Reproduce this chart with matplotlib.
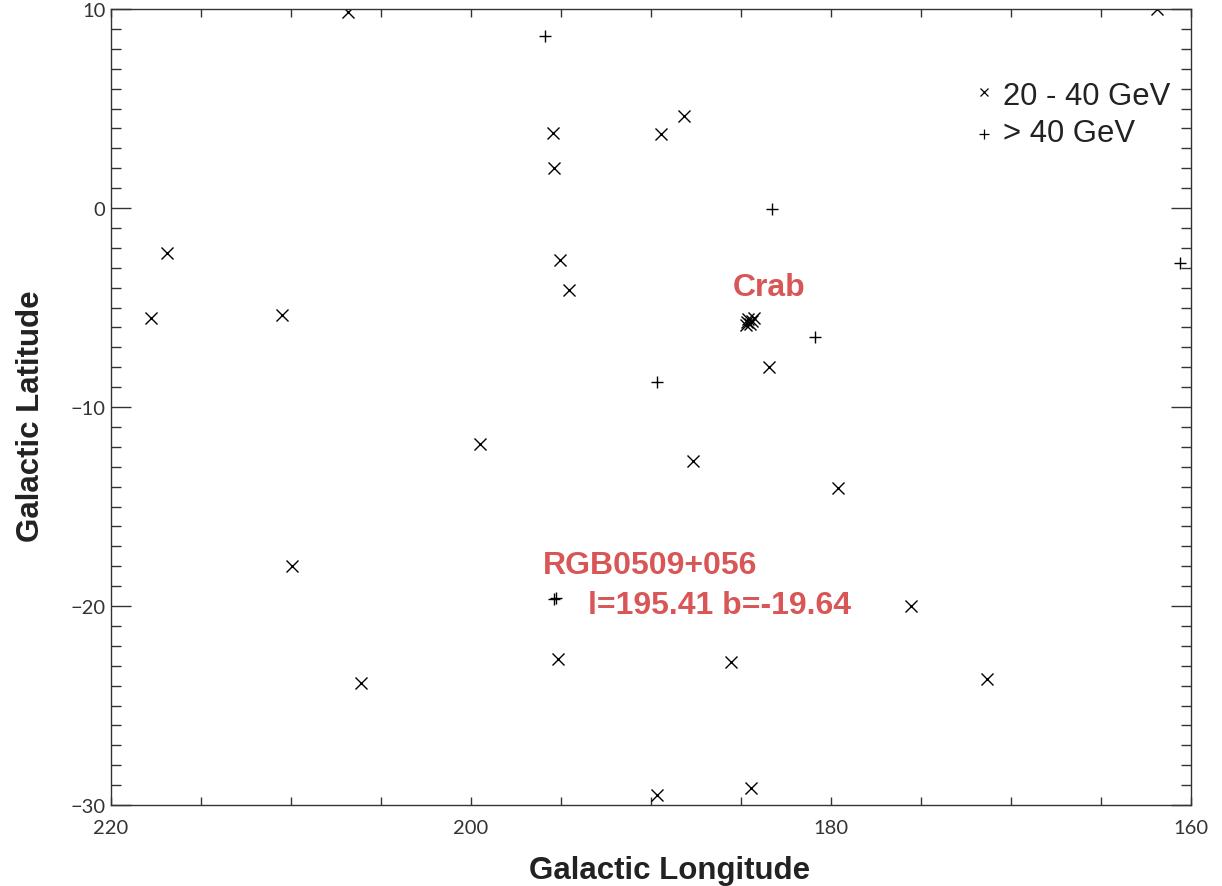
import matplotlib.pyplot as plt
from matplotlib.ticker import MultipleLocator

# photons 20 - 40 GeV (galactic l, b)
soft_l = [206.83, 216.89, 217.78, 210.50, 195.44, 195.39, 189.44, 188.17,
          195.06, 194.56, 184.60, 184.40, 184.70, 184.50, 184.30, 184.65,
          183.44, 199.50, 187.67, 179.61, 209.94, 175.56, 195.17, 185.56,
          206.11, 171.33, 189.67, 184.44, 161.89]
soft_b = [9.85, -2.26, -5.53, -5.38, 3.77, 2.01, 3.72, 4.62,
          -2.61, -4.12, -5.60, -5.70, -5.90, -5.85, -5.55, -5.75,
          -7.99, -11.86, -12.71, -14.07, -17.99, -20.00, -22.66, -22.81,
          -23.87, -23.67, -29.50, -29.15, 10.00]

# photons above 40 GeV
hard_l = [195.89, 183.28, 160.61, 180.89, 189.67, 195.41, 195.30]
hard_b = [8.64, -0.05, -2.76, -6.48, -8.74, -19.64, -19.60]

rgb_l, rgb_b = 195.41, -19.64
red = '#d95656'
ink = '#222222'

fig = plt.figure(figsize=(12.22, 8.87), dpi=100)
ax = fig.add_axes([0.0908, 0.0913, 0.8838, 0.8974])

ax.plot(soft_l, soft_b, 'x', color='black', markersize=9, mew=1.0)
ax.plot(hard_l, hard_b, '+', color='black', markersize=9, mew=1.0)

ax.text(183.44, -3.97, 'Crab', color=red, fontsize=23, fontweight='bold',
        family='Liberation Sans', ha='center', va='center')
ax.text(196.0, -17.95, 'RGB0509+056', color=red, fontsize=23, fontweight='bold',
        family='Liberation Sans', ha='left', va='center')
ax.text(193.5, -19.95, 'l=%.2f b=%.2f' % (rgb_l, rgb_b), color=red, fontsize=23,
        fontweight='bold', family='Liberation Sans', ha='left', va='center')

# legend drawn by hand in the upper right corner
ax.plot([0.808], [0.8957], 'x', color='black', markersize=6, mew=0.9,
        transform=ax.transAxes, clip_on=False)
ax.plot([0.808], [0.843], '+', color='black', markersize=7, mew=0.9,
        transform=ax.transAxes, clip_on=False)
ax.text(0.826, 0.881, '20 - 40 GeV', transform=ax.transAxes, fontsize=22.3,
        family='Liberation Sans', color=ink, ha='left', va='baseline')
ax.text(0.826, 0.834, '> 40 GeV', transform=ax.transAxes, fontsize=22.3,
        family='Liberation Sans', color=ink, ha='left', va='baseline')

ax.set_xlim(220, 160)
ax.set_ylim(-30, 10)
ax.xaxis.set_major_locator(MultipleLocator(20))
ax.xaxis.set_minor_locator(MultipleLocator(5))
ax.yaxis.set_major_locator(MultipleLocator(10))
ax.yaxis.set_minor_locator(MultipleLocator(1))

ax.tick_params(axis='x', which='both', direction='in', top=True, length=6,
               width=1, pad=10, labelsize=14.5, colors='#333333')
ax.tick_params(axis='y', which='major', direction='in', right=True, length=14.5,
               width=1, pad=4, labelsize=14.5, colors='#333333')
ax.tick_params(axis='y', which='minor', direction='in', right=True, length=7.2,
               width=1, colors='#333333')
for lab in ax.get_xticklabels() + ax.get_yticklabels():
    lab.set_family('Lato')
for sp in ax.spines.values():
    sp.set_color('#333333')
    sp.set_linewidth(1.0)

ax.set_xlabel('Galactic Longitude', fontsize=22.5, fontweight='bold',
              family='Liberation Sans', color=ink)
ax.set_ylabel('Galactic Latitude', fontsize=22.5, fontweight='bold',
              family='Liberation Sans', color=ink)
ax.xaxis.set_label_coords(0.517, -0.063)
ax.yaxis.set_label_coords(-0.060, 0.49)

fig.savefig('out.png', dpi=100)
